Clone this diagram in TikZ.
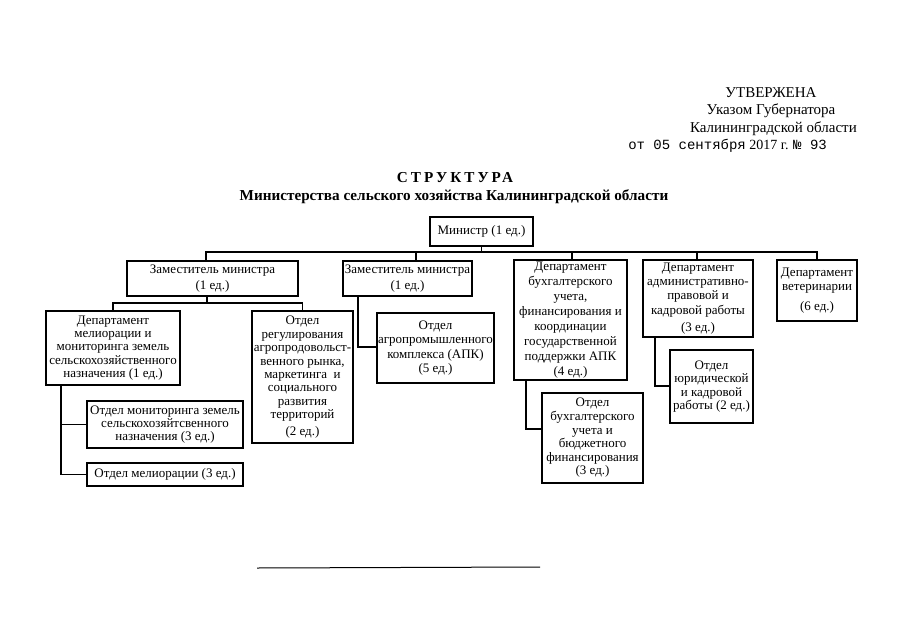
\documentclass[tikz,border=0pt]{standalone}
\usepackage{fontspec}
\setmainfont{Liberation Serif}
\newfontfamily\monofnt{Liberation Mono}
\begin{document}
\begin{tikzpicture}[x=1pt,y=-1pt,
  orgbox/.style={draw,line width=1.7pt,align=center,inner sep=0pt,
    font=\fontsize{13}{13.3}\selectfont},
  lead/.style={font=\fontsize{13}{#1}\selectfont},
  link/.style={line width=1.5pt},
  hdr/.style={inner sep=0pt,font=\fontsize{15}{17}\selectfont}]
\useasboundingbox (0,0) rectangle (905,640);
% header
\node[hdr,anchor=base] (h1) at (771,97) {УТВЕРЖЕНА};
\node[hdr,anchor=base] (h2) at (771,114) {Указом Губернатора};
\node[hdr,anchor=base east] (h3) at (857,132) {Калининградской области};
\node[hdr,anchor=base east,font=\fontsize{14}{17}\selectfont] (h4) at (827,149) {{\monofnt от 05 сентября} 2017 г. {\monofnt № 93}};
\node[hdr,anchor=base,font=\fontsize{15.2}{17}\selectfont\bfseries\addfontfeature{LetterSpace=20}] (t1) at (455,182) {СТРУКТУРА};
\node[hdr,anchor=base,font=\fontsize{15.2}{17}\selectfont\bfseries] (t2) at (454,200) {Министерства сельского хозяйства Калининградской области};
% boxes
\node[orgbox,minimum width=103pt,minimum height=29pt] (min) at (481.5,231.5) {Министр (1 ед.)};
\node[orgbox,lead=16,minimum width=171pt,minimum height=35pt] (zam1) at (212.5,278.5) {Заместитель министра\\(1 ед.)};
\node[orgbox,lead=16,minimum width=129pt,minimum height=35pt] (zam2) at (407.5,278.5) {Заместитель министра\\(1 ед.)};
\node[orgbox,lead=15,minimum width=113pt,minimum height=120pt] (buh) at (570.5,320) {Департамент\\бухгалтерского\\учета,\\финансирования и\\координации\\государственной\\поддержки АПК\\(4 ед.)};
\node[orgbox,lead=14.2,minimum width=110pt,minimum height=77pt] (adm) at (698,298.5) {Департамент\\административно-\\правовой и\\кадровой работы\\[3pt](3 ед.)};
\node[orgbox,lead=14,minimum width=80pt,minimum height=61pt] (vet) at (817,290.5) {Департамент\\ветеринарии\\[6pt](6 ед.)};
\node[orgbox,lead=13.3,minimum width=134pt,minimum height=74pt] (melio) at (113,348) {Департамент\\мелиорации и\\мониторинга земель\\сельскохозяйственного\\назначения (1 ед.)};
\node[orgbox,lead=13.4,minimum width=101pt,minimum height=132pt] (reg) at (302.5,377) {Отдел\\регулирования\\агропродовольст-\\венного рынка,\\маркетинга\ \ и\\социального\\развития\\территорий\\[3pt](2 ед.)};
\node[orgbox,lead=14.3,minimum width=117pt,minimum height=70pt] (apk) at (435.5,348) {Отдел\\агропромышленного\\комплекса (АПК)\\(5 ед.)};
\node[orgbox,lead=13.6,minimum width=101pt,minimum height=90pt] (obuh) at (592.5,438) {Отдел\\бухгалтерского\\учета и\\бюджетного\\финансирования\\(3 ед.)};
\node[orgbox,lead=13.4,minimum width=83pt,minimum height=73pt] (yur) at (711.5,386.5) {Отдел\\юридической\\и кадровой\\работы (2 ед.)};
\node[orgbox,lead=13,minimum width=156pt,minimum height=47pt] (monit) at (165,424.5) {Отдел мониторинга земель\\сельскохозяйтсвенного\\назначения (3 ед.)};
\node[orgbox,minimum width=156pt,minimum height=23pt] (omel) at (165,474.5) {Отдел мелиорации (3 ед.)};
% bus coordinates
\coordinate (bus1) at (0,252);
\coordinate (bus2) at (0,303);
% connectors
\draw[link] (min.south) -- (min.south |- bus1);
\draw[link] ([xshift=-6.5pt]zam1.north) -- ([xshift=-6.5pt]zam1.north |- bus1) -- (vet.north |- bus1) -- (vet.north);
\draw[link] ([xshift=8.5pt]zam2.north) -- ([xshift=8.5pt]zam2.north |- bus1);
\draw[link] ([xshift=1.5pt]buh.north) -- ([xshift=1.5pt]buh.north |- bus1);
\draw[link] ([xshift=-1pt]adm.north) -- ([xshift=-1pt]adm.north |- bus1);
\draw[link] ([xshift=-5.5pt]zam1.south) -- ([xshift=-5.5pt]zam1.south |- bus2);
\draw[link] (melio.north) -- (melio.north |- bus2) -- (reg.north |- bus2) -- (reg.north);
\draw[link] ([xshift=-49.5pt]zam2.south) |- ([yshift=1pt]apk.west);
\draw[link] ([xshift=-44.5pt]buh.south) |- ([yshift=9pt]obuh.west);
\draw[link] ([xshift=-43pt]adm.south) |- ([yshift=0.5pt]yur.west);
\draw[link] ([xshift=-52pt]melio.south) |- (omel.west);
\draw[link] ([xshift=-52pt]melio.south |- monit.west) -- (monit.west);
% bottom rule
\coordinate (r1) at (257,568);
\coordinate (r2) at (540,567);
\draw[line width=1pt] (r1) -- (r2);
\end{tikzpicture}
\end{document}
